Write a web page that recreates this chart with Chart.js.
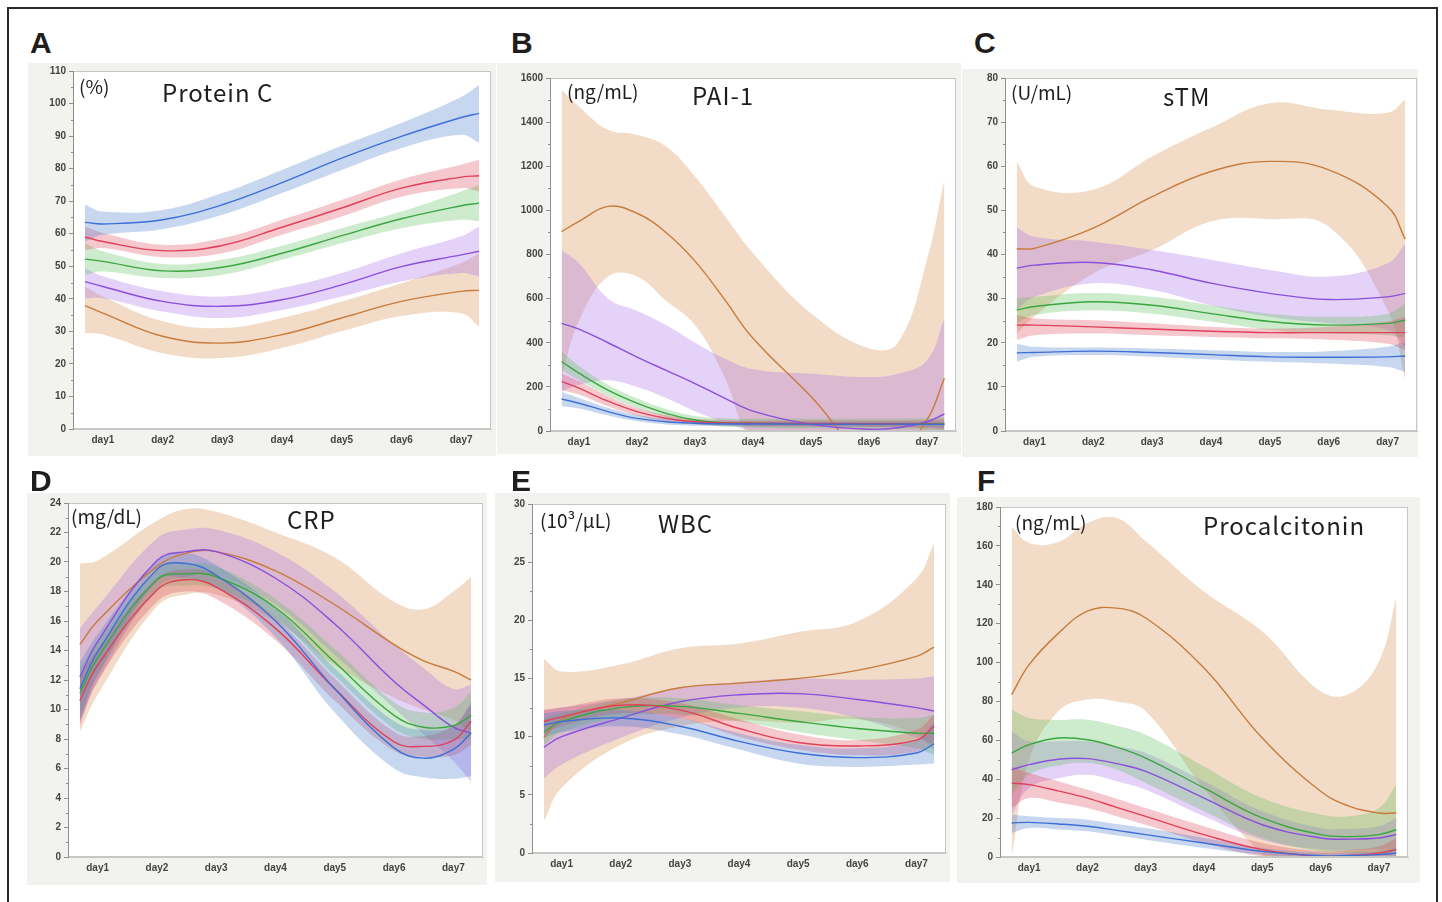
<!DOCTYPE html>
<html>
<head>
<meta charset="utf-8">
<script src="https://cdn.jsdelivr.net/npm/chart.js@4.4.1/dist/chart.umd.min.js"></script>
<style>
  body { margin: 0; background: #fff; width: 1442px; height: 902px; overflow: hidden; position: relative; }
  .frame { position: absolute; left: 7px; top: 7px; width: 1427px; height: 920px; border: 2px solid #2a2a2a; }
  .panel { position: absolute; background: #f2f2ef; }
  .txt { position: absolute; white-space: nowrap; color: #1e1e1e; }
  canvas { position: absolute; }
</style>
</head>
<body>
<div class="frame"></div>
<script>
// series order everywhere: blue, red, green, purple, orange
const groups = ['blue', 'red', 'green', 'purple', 'orange'];
const tickDays = [1, 2, 3, 4, 5, 6, 7];
const dayLabels = ['day1', 'day2', 'day3', 'day4', 'day5', 'day6', 'day7'];

// A: Protein C (%)
const pcDays = [0.7, 1, 2, 3, 4, 5, 6, 7, 7.3];
const pcMean = [
  [63.5, 63.0, 64.3, 68.9, 75.7, 83.2, 89.9, 95.7, 97.0],
  [59.0, 57.6, 54.8, 56.4, 62.0, 67.9, 74.0, 77.4, 77.8],
  [52.2, 51.5, 48.6, 49.7, 54.0, 59.4, 64.6, 68.6, 69.4],
  [45.3, 43.8, 39.2, 37.7, 39.7, 44.3, 49.9, 53.5, 54.6],
  [37.9, 35.6, 28.5, 26.4, 29.0, 34.1, 39.2, 42.3, 42.6]
];
const pcLo = [
  [57.6, 59.7, 61.4, 65.8, 72.5, 79.6, 86.3, 90.4, 88.0],
  [55.0, 55.6, 52.8, 54.0, 59.7, 65.3, 71.4, 74.0, 73.0],
  [47.4, 48.4, 46.4, 47.4, 52.0, 57.1, 61.7, 64.3, 63.8],
  [40.2, 40.2, 36.1, 34.1, 36.6, 40.7, 45.3, 47.9, 46.9],
  [29.5, 29.0, 23.3, 21.8, 24.9, 30.0, 34.7, 35.6, 31.5]
];
const pcHi = [
  [68.9, 66.8, 67.3, 72.5, 79.6, 87.0, 94.0, 102.0, 105.7],
  [62.2, 60.2, 56.6, 58.6, 64.3, 70.4, 76.7, 81.2, 82.7],
  [57.1, 54.6, 50.7, 52.0, 56.3, 61.7, 66.8, 73.0, 75.0],
  [49.4, 46.9, 42.3, 40.7, 43.3, 47.9, 54.0, 59.2, 62.2],
  [43.8, 40.7, 33.1, 31.0, 34.1, 39.2, 44.8, 51.0, 54.0]
];

// B: PAI-1 (ng/mL)
const paiDays = [0.7, 1, 1.5, 2, 2.5, 3, 3.5, 4, 5, 6, 6.5, 7, 7.3];
const paiMean = [
  [145, 126, 88, 57, 42, 35, 32, 32, 31, 31, 31, 30, 30],
  [224, 194, 135, 88, 58, 42, 36, 35, 34, 33, 32, 31, 30],
  [315, 262, 185, 126, 80, 50, 38, 35, 33, 33, 33, 33, 33],
  [488, 462, 400, 335, 275, 215, 150, 90, 30, 8, 15, 42, 77],
  [904, 950, 1018, 987, 900, 770, 600, 420, 156, -130, -100, 50, 239]
];
const paiLo = [
  [112, 102, 70, 44, 30, 24, 22, 21, 20, 19, 19, 18, 15],
  [185, 165, 112, 70, 44, 30, 25, 22, 20, 18, 16, 12, 8],
  [275, 230, 160, 105, 62, 33, 20, 15, 12, 10, 8, 5, 2],
  [180, 210, 230, 200, 150, 90, 40, 0, -50, -80, -80, -100, -200],
  [250, 500, 700, 700, 590, 480, 250, -50, -200, -250, -250, -400, -700]
];
const paiHi = [
  [178, 150, 105, 72, 55, 46, 43, 42, 42, 42, 42, 42, 45],
  [262, 225, 158, 105, 72, 55, 50, 48, 48, 48, 48, 50, 55],
  [360, 295, 210, 148, 100, 68, 58, 55, 55, 55, 56, 58, 62],
  [820, 760, 600, 545, 480, 400, 330, 280, 260, 245, 260, 320, 510],
  [1547, 1471, 1365, 1343, 1290, 1154, 980, 806, 534, 375, 400, 776, 1139]
];

// C: sTM (U/mL)
const stmDays = [0.7, 1, 2, 3, 4, 5, 6, 7, 7.3];
const stmMean = [
  [17.7, 17.8, 18.1, 17.8, 17.3, 16.8, 16.7, 16.8, 17.0],
  [24.0, 24.0, 23.6, 23.1, 22.6, 22.3, 22.3, 22.3, 22.3],
  [27.4, 28.2, 29.3, 28.5, 26.6, 24.8, 24.0, 24.4, 25.1],
  [36.9, 37.6, 38.2, 36.5, 33.5, 31.2, 29.8, 30.4, 31.2],
  [41.3, 41.4, 46.0, 53.1, 58.8, 61.1, 59.2, 50.9, 43.5]
];
const stmLo = [
  [15.7, 16.8, 17.2, 16.8, 16.2, 15.7, 15.3, 14.5, 13.4],
  [20.6, 21.7, 22.1, 21.7, 21.3, 21.0, 20.7, 19.8, 18.3],
  [24.4, 26.3, 27.3, 26.6, 24.8, 22.9, 22.1, 21.7, 21.0],
  [27.4, 30.4, 33.5, 32.0, 28.5, 25.9, 24.4, 22.9, 19.1],
  [22.0, 26.0, 35.7, 41.0, 47.5, 48.0, 46.3, 27.4, 11.5]
];
const stmHi = [
  [19.8, 19.1, 18.9, 18.7, 18.3, 17.9, 18.1, 19.1, 20.2],
  [26.3, 25.5, 25.1, 24.4, 23.6, 23.2, 23.6, 24.8, 25.9],
  [30.0, 30.4, 31.3, 30.4, 28.5, 26.6, 25.9, 26.6, 28.9],
  [46.2, 44.0, 42.9, 41.0, 38.8, 36.5, 35.0, 38.0, 42.5],
  [61.1, 55.4, 54.7, 62.2, 68.7, 74.3, 72.8, 72.1, 75.1]
];

// D: CRP (mg/dL)
const crpDays = [0.7, 1, 2, 2.5, 3, 4, 5, 6, 6.5, 7, 7.3];
const crpMean = [
  [11.4, 13.9, 19.5, 19.9, 19.1, 16.0, 11.4, 7.4, 6.7, 7.3, 8.4],
  [10.6, 13.0, 18.1, 18.8, 18.3, 15.5, 11.4, 7.8, 7.5, 7.9, 9.2],
  [11.1, 13.5, 18.8, 19.2, 19.0, 16.9, 13.2, 9.6, 8.8, 8.9, 9.6],
  [12.2, 14.6, 20.1, 20.7, 20.7, 18.9, 15.8, 11.9, 10.3, 8.8, 8.4],
  [14.4, 16.0, 19.7, 20.6, 20.7, 19.4, 17.1, 14.4, 13.3, 12.6, 12.0]
];
const crpLo = [
  [9.2, 12.3, 18.7, 18.9, 18.3, 14.9, 9.8, 6.0, 5.4, 5.3, 5.5],
  [8.9, 11.9, 17.3, 18.0, 17.5, 14.7, 10.6, 7.2, 6.8, 6.9, 7.6],
  [9.4, 12.3, 18.0, 18.4, 18.2, 16.2, 12.3, 8.7, 8.0, 8.0, 8.0],
  [9.2, 11.9, 18.2, 19.0, 19.1, 17.1, 13.7, 10.1, 8.3, 6.5, 5.1],
  [8.5, 11.0, 17.0, 17.8, 17.8, 16.0, 13.0, 10.8, 10.0, 9.3, 8.5]
];
const crpHi = [
  [13.2, 15.1, 20.1, 20.6, 19.8, 16.9, 12.8, 9.2, 8.6, 8.9, 10.5],
  [12.3, 14.1, 18.9, 19.5, 19.1, 16.2, 12.1, 8.5, 8.2, 8.9, 10.3],
  [12.8, 14.6, 19.5, 19.9, 19.7, 17.5, 14.1, 10.5, 9.8, 10.1, 11.2],
  [15.5, 17.0, 21.6, 22.2, 22.2, 20.7, 18.0, 14.4, 12.8, 11.4, 11.7],
  [19.9, 20.1, 22.8, 23.6, 23.4, 22.0, 20.3, 17.3, 16.8, 18.0, 19.0]
];

// E: WBC (10^3/uL)
const wbcDays = [0.7, 1, 2, 3, 4, 5, 6, 7, 7.3];
const wbcMean = [
  [11.0, 11.3, 11.6, 10.9, 9.6, 8.6, 8.2, 8.6, 9.4],
  [11.3, 11.7, 12.7, 12.3, 10.7, 9.5, 9.2, 9.7, 10.9],
  [10.4, 11.3, 12.5, 12.6, 12.0, 11.3, 10.7, 10.3, 10.3],
  [9.1, 10.0, 11.6, 13.0, 13.6, 13.7, 13.2, 12.5, 12.2],
  [9.9, 11.5, 12.9, 14.2, 14.6, 15.0, 15.7, 16.9, 17.7]
];
const wbcLo = [
  [9.9, 10.4, 10.9, 10.2, 8.9, 7.7, 7.4, 7.6, 7.7],
  [10.2, 10.9, 12.0, 11.6, 10.0, 8.9, 8.4, 8.7, 9.6],
  [9.3, 10.4, 11.7, 11.9, 11.3, 10.4, 9.7, 9.0, 8.4],
  [6.4, 7.6, 9.9, 11.6, 12.5, 12.5, 11.6, 9.9, 9.3],
  [2.7, 5.6, 9.3, 10.9, 11.4, 11.2, 11.5, 10.2, 8.8]
];
const wbcHi = [
  [12.0, 12.2, 12.3, 11.6, 10.3, 9.3, 9.0, 9.7, 11.3],
  [12.3, 12.5, 13.3, 12.9, 11.5, 10.2, 9.7, 10.6, 11.9],
  [11.6, 12.0, 13.2, 13.3, 12.7, 12.2, 11.7, 11.6, 11.9],
  [12.3, 12.5, 13.2, 14.2, 14.7, 15.0, 14.9, 15.0, 15.2],
  [16.7, 15.6, 16.2, 17.6, 18.0, 19.0, 19.9, 23.6, 26.6]
];

// F: Procalcitonin (ng/mL)
const pctDays = [0.7, 1, 1.5, 2, 2.5, 3, 4, 5, 6, 6.5, 7, 7.3];
const pctMean = [
  [17.5, 17.8, 17.0, 15.8, 13.7, 11.5, 7.2, 2.9, 0.7, 0.8, 1.2, 2.0],
  [38.0, 37.2, 34.0, 30.3, 25.5, 20.9, 11.5, 3.8, 0.3, 0.8, 2.0, 3.8],
  [53.5, 57.8, 61.2, 60.3, 56.5, 50.9, 35.5, 20.1, 11.5, 10.5, 11.5, 14.0],
  [44.9, 47.5, 50.3, 50.6, 48.0, 44.0, 30.3, 16.6, 9.8, 9.2, 9.8, 11.5],
  [83.5, 98.9, 115.0, 126.4, 128.0, 122.9, 97.2, 61.2, 33.8, 26.0, 22.6, 22.6]
];
const pctLo = [
  [12.3, 14.9, 14.2, 13.2, 11.0, 8.9, 4.6, 1.2, -0.5, -0.5, -0.5, -0.5],
  [25.2, 30.3, 28.0, 25.2, 21.0, 16.6, 7.2, 0.3, -1.4, -1.5, -1.0, -0.5],
  [32.0, 42.3, 47.0, 48.3, 45.0, 38.0, 23.5, 9.8, 2.9, 2.0, 1.2, 1.2],
  [21.8, 35.5, 40.5, 42.3, 39.0, 34.6, 20.9, 8.9, 3.8, 3.5, 3.8, 3.8],
  [0, 50, 75, 81, 80, 75, 35, 1, -25, -40, -50, -60]
];
const pctHi = [
  [21.8, 20.9, 20.0, 19.2, 17.0, 14.9, 9.8, 4.6, 2.0, 2.2, 2.9, 4.6],
  [46.6, 43.2, 39.0, 34.6, 30.0, 25.2, 15.8, 7.2, 2.9, 3.5, 5.5, 9.8],
  [75.8, 71.5, 70.5, 70.6, 67.5, 62.9, 46.6, 30.3, 21.8, 21.0, 25.2, 37.2],
  [64.6, 59.5, 59.5, 59.5, 57.0, 53.5, 38.9, 23.5, 14.9, 14.5, 15.8, 20.1],
  [170.0, 161.5, 162.0, 171.8, 174.4, 162.4, 136.6, 116.0, 85.2, 84.0, 100.6, 133.2]
];

const lineColors = ['#3d6fd6', '#e0405a', '#3aa640', '#8a4fdc', '#c87b3a'];
const bandColors = [
  'rgba(72,122,205,0.30)', 'rgba(222,72,88,0.30)', 'rgba(88,188,88,0.30)',
  'rgba(165,105,232,0.30)', 'rgba(218,155,98,0.35)'
];

const panelPlugin = {
  id: 'panelFrame',
  beforeDraw(chart) {
    const { ctx, chartArea: a } = chart;
    ctx.save();
    ctx.fillStyle = '#ffffff';
    ctx.fillRect(a.left, a.top, a.right - a.left, a.bottom - a.top);
    ctx.restore();
  },
  afterDraw(chart) {
    const { ctx, chartArea: a, scales: { y } } = chart;
    ctx.save();
    ctx.strokeStyle = '#c6c6c6';
    ctx.lineWidth = 1;
    ctx.strokeRect(a.left + 0.5, a.top + 0.5, a.right - a.left - 1, a.bottom - a.top - 1);
    ctx.strokeStyle = '#8f8f8f';
    ctx.beginPath();
    ctx.moveTo(a.left + 0.5, a.top);
    ctx.lineTo(a.left + 0.5, a.bottom);
    // minor ticks half way between labels
    const step = chart.options.scales.y.ticks.stepSize;
    for (let v = step / 2; v < y.max; v += step) {
      const py = Math.round(y.getPixelForValue(v)) + 0.5;
      ctx.moveTo(a.left - 2, py);
      ctx.lineTo(a.left, py);
    }
    ctx.stroke();
    ctx.restore();
  }
};

const tickFont = { family: '"Liberation Sans", Arial, sans-serif', size: 10, weight: 'bold' };

function makePanel(rect, yMax, yStep, days, mean, lo, hi) {
  const canvas = document.createElement('canvas');
  const w = rect.right - rect.left + 48;
  const h = rect.bottom - rect.top + 36;
  canvas.width = w;
  canvas.height = h;
  canvas.style.left = (rect.left - 40) + 'px';
  canvas.style.top = (rect.top - 10) + 'px';
  document.body.appendChild(canvas);

  const pts = arr => arr.map((v, i) => ({ x: days[i], y: v }));
  const datasets = [];
  // bands first (drawn back to front: orange at the back)
  groups.forEach((g, i) => {
    datasets.push({
      label: g + ' upper', data: pts(hi[i]), fill: '+1', backgroundColor: bandColors[i],
      borderWidth: 0, pointRadius: 0, order: 20 + i * 2
    });
    datasets.push({
      label: g + ' lower', data: pts(lo[i]), fill: false,
      borderWidth: 0, pointRadius: 0, order: 20 + i * 2
    });
  });
  groups.forEach((g, i) => {
    datasets.push({
      label: g, data: pts(mean[i]), fill: false, borderColor: lineColors[i],
      borderWidth: 1.4, pointRadius: 0, order: 1 + i
    });
  });

  new Chart(canvas.getContext('2d'), {
    type: 'line',
    data: { datasets },
    options: {
      responsive: false,
      animation: false,
      events: [],
      elements: { line: { tension: 0.4, capBezierPoints: false } },
      layout: { padding: { top: 10, right: 8, left: 0, bottom: 0 } },
      plugins: { legend: { display: false }, tooltip: { enabled: false } },
      scales: {
        x: {
          type: 'linear', min: 0.5, max: 7.5,
          afterBuildTicks: s => { s.ticks = tickDays.map(v => ({ value: v })); },
          afterFit: s => { s.height = 26; },
          ticks: { callback: v => dayLabels[v - 1], color: '#444', font: tickFont, padding: 5, autoSkip: false, maxRotation: 0 },
          grid: { display: false, drawTicks: false },
          border: { color: '#c6c6c6' }
        },
        y: {
          min: 0, max: yMax,
          afterFit: s => { s.width = 40; },
          ticks: { stepSize: yStep, callback: v => String(v), color: '#444', font: tickFont, padding: 3 },
          grid: { drawOnChartArea: false, tickLength: 4, color: '#8f8f8f' },
          border: { color: '#8f8f8f' }
        }
      }
    },
    plugins: [panelPlugin]
  });
}

function addBox(x, y, w, h) {
  const d = document.createElement('div');
  d.className = 'panel';
  Object.assign(d.style, { left: x + 'px', top: y + 'px', width: w + 'px', height: h + 'px' });
  document.body.appendChild(d);
}

const measure = document.createElement('canvas').getContext('2d');
function addText(text, x, baseline, size, family, weight, spacing) {
  measure.font = `${weight} ${size}px ${family}`;
  const m = measure.measureText(text);
  const asc = m.fontBoundingBoxAscent, desc = m.fontBoundingBoxDescent;
  const d = document.createElement('div');
  d.className = 'txt';
  d.textContent = text;
  Object.assign(d.style, {
    left: x + 'px',
    top: (baseline - ((size - (asc + desc)) / 2 + asc)) + 'px',
    font: `${weight} ${size}px ${family}`,
    lineHeight: size + 'px',
    letterSpacing: (spacing || 0) + 'px'
  });
  document.body.appendChild(d);
}

const jp = '"Noto Sans CJK JP", "Noto Sans", sans-serif';
const sans = '"Liberation Sans", Arial, sans-serif';

// grey panel backgrounds
addBox(28, 63, 468, 393);
addBox(497, 63, 464, 391);
addBox(962, 69, 456, 388);
addBox(27, 493, 460, 392);
addBox(495, 493, 455, 389);
addBox(957, 497, 463, 386);

makePanel({ left: 73, right: 491, top: 71, bottom: 429 }, 110, 10, pcDays, pcMean, pcLo, pcHi);
makePanel({ left: 550, right: 956, top: 78, bottom: 431 }, 1600, 200, paiDays, paiMean, paiLo, paiHi);
makePanel({ left: 1005, right: 1417, top: 78, bottom: 431 }, 80, 10, stmDays, stmMean, stmLo, stmHi);
makePanel({ left: 68, right: 483, top: 503, bottom: 857 }, 24, 2, crpDays, crpMean, crpLo, crpHi);
makePanel({ left: 532, right: 946, top: 504, bottom: 853 }, 30, 5, wbcDays, wbcMean, wbcLo, wbcHi);
makePanel({ left: 1000, right: 1408, top: 507, bottom: 857 }, 180, 20, pctDays, pctMean, pctLo, pctHi);

// panel letters
addText('A', 30, 53, 30, sans, 'bold');
addText('B', 511, 53, 30, sans, 'bold');
addText('C', 974, 53, 30, sans, 'bold');
addText('D', 30, 491, 30, sans, 'bold');
addText('E', 511, 491, 30, sans, 'bold');
addText('F', 977, 491, 30, sans, 'bold');

// units and titles
addText('(%)', 79, 94, 19, jp, 'normal');
addText('Protein C', 162, 102, 24, jp, 'normal', 1);
addText('(ng/mL)', 567, 99, 19, jp, 'normal');
addText('PAI-1', 692, 105, 24, jp, 'normal', 1);
addText('(U/mL)', 1011, 100, 19, jp, 'normal');
addText('sTM', 1163, 106, 24, jp, 'normal', 1);
addText('(mg/dL)', 71, 524, 19, jp, 'normal');
addText('CRP', 287, 529, 24, jp, 'normal', 1);
addText('(10³/μL)', 540, 528, 19, jp, 'normal');
addText('WBC', 658, 533, 24, jp, 'normal', 1);
addText('(ng/mL)', 1015, 530, 19, jp, 'normal');
addText('Procalcitonin', 1203, 535, 24, jp, 'normal', 1);
</script>
</body>
</html>
